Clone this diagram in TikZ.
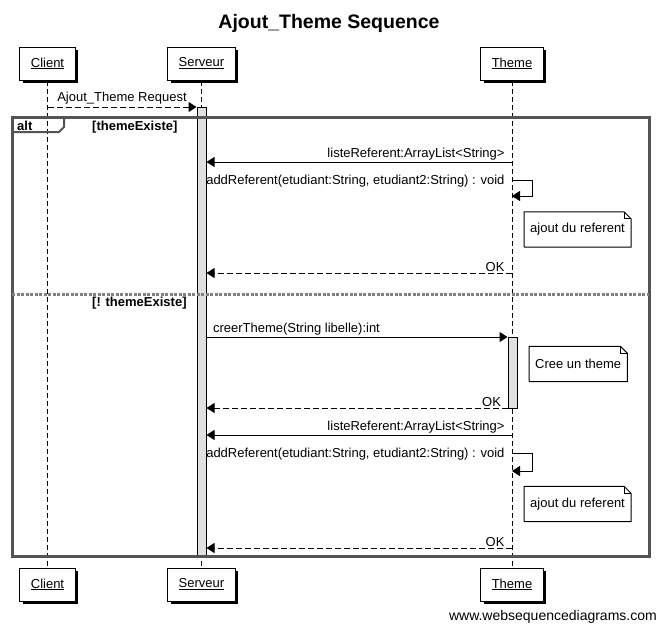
\documentclass[tikz,border=0pt]{standalone}
\usepackage{fontspec}
\setmainfont{Liberation Sans}
\usetikzlibrary{arrows.meta,shadows,positioning}

\tikzset{
  actor/.style={draw,fill=white,line width=1pt,minimum height=33pt,inner xsep=11pt,
    font=\fontsize{13}{15}\selectfont,
    drop shadow={shadow xshift=3pt,shadow yshift=-3pt,fill=black,opacity=1}},
  life/.style={line width=1pt,dash pattern=on 5pt off 3pt},
  bar/.style={draw,fill=black!12,line width=1pt,minimum width=9pt,inner sep=0pt},
  msg/.style={-{Triangle[length=8pt,width=10pt]},line width=1pt},
  ret/.style={msg,dash pattern=on 6pt off 3pt},
  txt/.style={font=\fontsize{13}{15}\selectfont,inner sep=0pt},
  guard/.style={font=\fontsize{13}{15}\selectfont\bfseries,inner sep=0pt,anchor=west},
  memo/.style={txt,inner xsep=6pt,minimum height=35pt,anchor=west},
  frame/.style={draw=black!67,line width=3pt},
}

\begin{document}
\begin{tikzpicture}[x=1pt,y=-1pt]
\useasboundingbox (0,0) rectangle (658,625);
\node[font=\fontsize{19.5}{22}\selectfont\bfseries] (title) at (329,23) {Ajout\_Theme Sequence};
% participants and lifelines
\foreach \n/\x/\t in {c/47.5/Client,s/201.5/Serveur,t/512/Theme}
{
  \node[actor] (\n-top) at (\x,63.5) {\underline{\t}};
  \node[actor] (\n-bot) at (\x,584.5) {\underline{\t}};
  \draw[life] (\n-top) -- (\n-bot);
}
\node[bar,minimum height=449pt] (s-bar) at (201.5,331.5) {};
\node[bar,minimum height=71pt] (t-bar) at (512.5,372.5) {};
% message rows
\foreach \r/\y in {r1/107,r2/162,r3/180,r3b/196,r4/273,r5/337,r6/408,r7/435,r8/453,r8b/471,r9/548}
  \coordinate (\r) at (0,\y);

\draw[ret] (c-top |- r1) -- node[txt,above=2pt]{Ajout\_Theme Request} (s-bar.west |- r1);
\draw[msg] (t-top |- r2) node[txt,anchor=south east,xshift=-7pt,yshift=1pt]{listeReferent:ArrayList<String>} -- (s-bar.east |- r2);
\draw[msg] (t-top |- r3) node[txt,anchor=east,xshift=-7pt,yshift=-1pt]{addReferent(etudiant:String, etudiant2:String) : void} -- ++(20,0) |- (t-top |- r3b);
\draw[ret] (t-top |- r4) node[txt,anchor=south east,xshift=-7pt,yshift=1pt]{OK} -- (s-bar.east |- r4);
\draw[msg] (s-bar.east |- r5) node[txt,anchor=south west,xshift=6pt,yshift=1pt]{creerTheme(String libelle):int} -- (t-bar.west |- r5);
\draw[ret] (t-bar.west |- r6) node[txt,anchor=south east,xshift=-6pt,yshift=1pt]{OK} -- (s-bar.east |- r6);
\draw[msg] (t-top |- r7) node[txt,anchor=south east,xshift=-7pt,yshift=1pt]{listeReferent:ArrayList<String>} -- (s-bar.east |- r7);
\draw[msg] (t-top |- r8) node[txt,anchor=east,xshift=-7pt,yshift=-1pt]{addReferent(etudiant:String, etudiant2:String) : void} -- ++(20,0) |- (t-top |- r8b);
\draw[ret] (t-top |- r9) node[txt,anchor=south east,xshift=-7pt,yshift=1pt]{OK} -- (s-bar.east |- r9);

% notes
\foreach \n/\x/\y/\t in {n1/524/229.5/ajout du referent,n2/529/364/Cree un theme,n3/524/504/ajout du referent}
{
  \node[memo] (\n) at (\x,\y) {\t};
  \draw[line width=1pt] (\n.south west) |- ([xshift=-7pt]\n.north east) -- ([yshift=-7pt]\n.north east) |- (\n.south west);
  \draw[line width=1pt] ([xshift=-7pt]\n.north east) |- ([yshift=-7pt]\n.north east);
}

% alt fragment
\draw[frame] (12,117) rectangle (649,556);
\draw[frame,draw=black!50,dash pattern=on 3pt off 1.5pt] (12,294) -- (649,294);
\draw[draw=black!67,line width=2pt] (12,132) -- (59,132) -- (64,127) -- (64,117);
\node[guard] (alt) at (17,126) {alt};
\node[guard] (g1) at (92,127) {[themeExiste]};
\node[guard] (g2) at (92,303) {[! themeExiste]};

\node[txt,font=\fontsize{14}{16}\selectfont,anchor=east] (wsd) at (657,617) {www.websequencediagrams.com};
\end{tikzpicture}
\end{document}
